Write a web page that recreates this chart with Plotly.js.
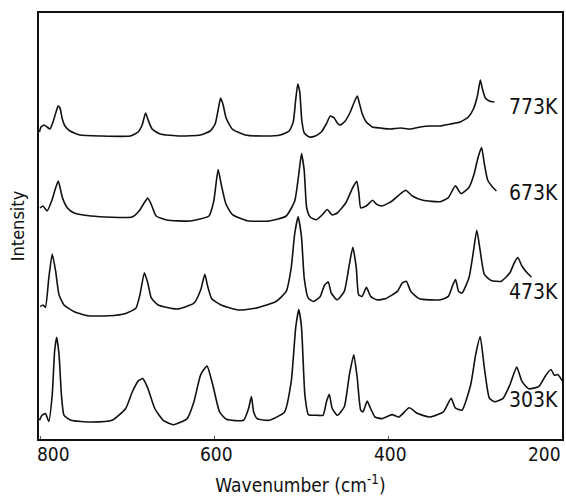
<!DOCTYPE html>
<html>
<head>
<meta charset="utf-8">
<script src="https://cdn.plot.ly/plotly-3.0.1.min.js"></script>
<style>html,body{margin:0;padding:0;background:#fff;}#chart{width:566px;height:496px;}</style>
</head>
<body>
<div id="chart"></div>
<script>
// Series labels (temperatures)
const temps = ['773K', '673K', '473K', '303K'];

// Wavenumber (cm^-1) and offset intensity (arb. units)
const wn773 = [801,799.2,795.7,792.3,788.8,785.4,781.9,779.6,777.3,775.0,771.6,765.8,754.3,731.3,696.7,687.5,682.9,678.9,676.0,671.4,662.2,639.2,616.1,604.6,598.9,595.5,592.6,589.7,586.3,579.3,564.4,541.4,524.1,513.7,509.1,506.3,503.9,501.6,499.3,496.4,490.7,483.8,476.9,471.1,466.5,461.9,458.5,455.0,449.3,443.5,438.9,435.4,433.1,429.7,425.1,418.2,409.0,397.5,386.0,374.5,362.9,351.4,339.9,328.4,316.9,307.7,301.9,297.3,293.9,291.8,288.2,283.6,277.8];
const int773 = [308,313,315,313,311,318,328,334,332,322,314,309,305,304,304,308,315,327,320,311,306,304,305,309,316,330,342,335,322,311,305,304,305,309,318,340,356,348,320,307,303,304,308,316,324,322,317,315,319,328,338,344,337,326,318,313,312,311,312,311,313,314,314,316,318,323,331,344,360,352,342,339,338];

const wn673 = [800.3,796.9,792.3,786.5,783.1,779.3,774.6,768.7,761.2,741.6,694.4,686.4,680.6,676.4,672.6,666.8,654.7,627.7,606.0,600.5,595.5,592.0,586.5,579.0,562.0,536.7,517.2,507.4,502.7,499.6,496.5,493.6,489.6,482.6,476.0,470.0,464.3,458.5,448.5,440.6,436.0,433.5,431.5,425.1,417.8,413.1,407.2,395.4,385.6,379.7,372.1,360.0,340.3,330.7,322.6,316.1,307.0,301.1,296.4,292.5,289.3,285.5,279.5,275.4];
const int673 = [232,234,229,240,250,259,242.4,232,227,224,223,229,237,242,236,224,220,219,224,239,270.5,256,236,225.4,219.3,219,224,239,266,286.4,269.5,232,223,220.3,225,230.5,225,227,237.3,252.5,258.6,246,232.2,234,239.7,235.6,234,239,246.4,249.8,244,239.7,238.3,242.4,254.2,246.4,252.5,266,283,292.5,276.3,260,252.5,249];

const wn473 = [800.1,796.9,794.1,790.2,786.3,782.4,778.5,772.7,760.8,745.1,721.5,701.8,690.1,685.4,680.3,676.4,672.3,664.5,642.9,623.3,615.5,610.8,607.5,602.8,592.0,572.4,552.8,529.0,517.2,511.4,507.4,503.5,499.6,496.5,491.9,485.8,478.0,473.2,468.8,465.4,458.5,450.4,444.5,440.6,436.6,433.9,430.0,424.9,420.1,413.1,403.2,389.4,383.6,379.0,373.9,364.1,340.4,330.7,325.5,322.4,318.9,315.0,307.0,302.3,298.0,294.1,289.3,281.5,269.7,259.9,254.7,250.8,246.1,240.2,235.2];
const int473 = [133.4,135,132.7,162.2,186,169,145.3,135,128.3,124.2,124.2,126.6,131.7,145.3,167.3,157.1,142,135,131,136.8,150.3,165.6,153.7,141.2,135,130,131.7,138.5,148.6,172.4,206.3,223.2,202.9,162.2,141.9,138.5,143.6,154.7,158.1,147,140.2,148.6,175.8,192.7,172.4,145.3,143.6,152.7,143.6,140.2,141.2,148.6,157.1,158.8,148.6,141.2,140.2,143.6,155.4,160.5,148.6,147,162.2,186,209.7,189.3,165.6,159.5,158.8,167.3,177.5,182.5,174,167.3,163];

const wn303 = [801,798.0,794.1,790.2,786.3,783.5,781.2,778.5,775.7,772.7,764.7,741.2,717.5,701.8,694.0,687.0,682.2,676.4,668.4,658.6,646.9,631.1,623.3,615.5,608.3,601.7,593.8,586.0,566.3,560.5,557.2,554.6,550.6,536.9,519.1,511.4,506.2,502.7,499.6,495.7,491.6,481.8,474.8,470.9,467.7,464.3,458.2,450.4,444.5,439.5,435.5,431.5,428.8,424.1,420.1,415.1,407.2,395.4,387.5,375.8,365.9,352.2,336.5,327.5,322.8,315.0,305.0,299.2,294.1,289.3,283.5,277.5,267.7,259.9,252.1,246.1,238.3,226.5,218.6,212.7,208.8,204.9,199.9];
const int303 = [19.7,24.7,26.4,18.6,45,89.2,102.7,85.8,45,24.7,19.7,18,19.7,31.5,48.5,59.3,61.4,51.9,31.5,19.7,15.3,21.4,38.3,65.4,73.9,55.3,28.1,20.7,19.7,31.5,43.4,28.1,21.4,19.7,28.1,58.6,112.9,130.5,112.9,45,25.4,24.7,24.7,38.3,45.8,31.5,24.7,33.2,65.4,85.1,62,29.8,28.1,39,31.5,23,21.4,25.4,23,32.2,26.4,23,28.1,41.7,32.2,29.8,55.3,85.8,103.4,72.2,41.7,38.3,41.7,55.3,72.9,58.6,51.2,53.6,64.7,70.5,64.7,65.4,59.3];

// Axis tick values / labels
const tickVals = [800, 600, 400, 200];
const tickText = ['800', '600', '400', '200'];

const seriesX = [wn773, wn673, wn473, wn303];
const seriesY = [int773, int673, int473, int303];
// vertical placement of the temperature labels (in the same offset units)
const labelY = [333, 247, 148, 40];

const FONT = 'DejaVu Sans Condensed, Liberation Sans Narrow, DejaVu Sans, sans-serif';
const INK = '#111111';

const traces = seriesX.map((xs, i) => ({
  type: 'scatter', mode: 'lines', name: temps[i],
  x: xs, y: seriesY[i],
  line: {color: INK, width: 1.6, shape: 'spline', smoothing: 0.5},
  hoverinfo: 'skip', showlegend: false
}));

const annotations = [];
temps.forEach((t, i) => {
  annotations.push({
    text: t, xref: 'paper', yref: 'y', x: 1, y: labelY[i],
    xanchor: 'right', yanchor: 'middle', xshift: -2, showarrow: false,
    font: {family: FONT, size: 21, color: INK}
  });
});
tickVals.forEach((v, i) => {
  const last = tickVals.length - 1;
  annotations.push({
    text: tickText[i], xref: 'x', yref: 'paper', x: v, y: 0,
    xanchor: i === 0 ? 'left' : (i === last ? 'right' : 'center'),
    xshift: i === 0 ? -5 : (i === last ? 1 : 2),
    yanchor: 'top', yshift: -2, showarrow: false,
    font: {family: FONT, size: 19, color: INK}
  });
});

const layout = {
  width: 566, height: 496,
  margin: {l: 39, r: 4, t: 13, b: 57},
  paper_bgcolor: '#ffffff', plot_bgcolor: '#ffffff',
  showlegend: false,
  xaxis: {
    range: [801.5, 200], showgrid: false, zeroline: false,
    showline: true, mirror: true, linecolor: INK, linewidth: 1.8,
    ticks: 'inside', ticklen: 3, tickcolor: '#555', tickwidth: 1,
    tickvals: tickVals, ticktext: tickText, showticklabels: false,
    automargin: false,
    title: {text: 'Wavenumber (cm<sup>-1</sup>)', standoff: 42,
            font: {family: FONT, size: 19, color: INK}}
  },
  yaxis: {
    range: [1, 427], showgrid: false, zeroline: false,
    showline: true, mirror: true, linecolor: INK, linewidth: 1.8,
    ticks: '', showticklabels: false, automargin: false,
    title: {text: 'Intensity', standoff: 8,
            font: {family: FONT, size: 18, color: INK}}
  },
  annotations: annotations
};

Plotly.newPlot('chart', traces, layout, {staticPlot: true, displayModeBar: false});
</script>
</body>
</html>
